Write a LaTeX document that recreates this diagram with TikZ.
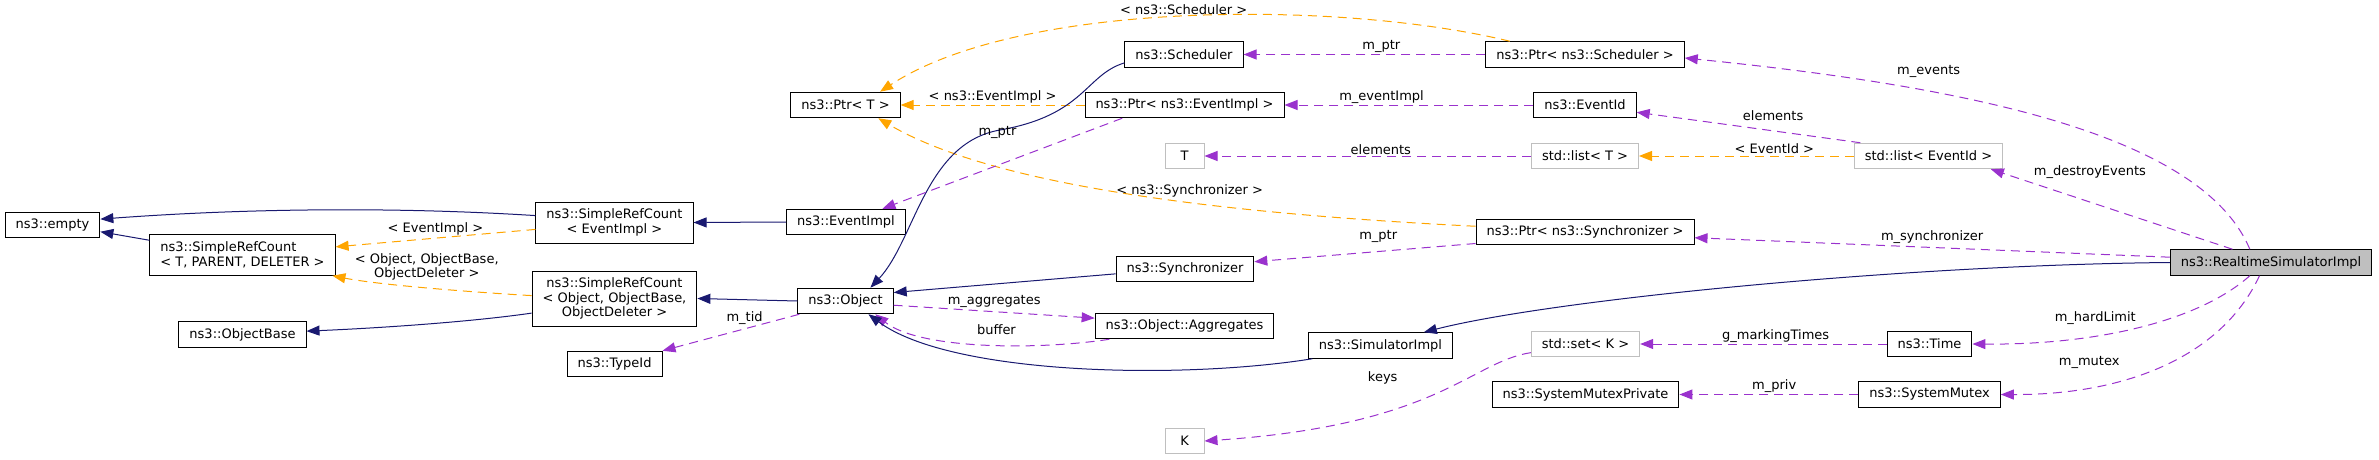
\documentclass[tikz,border=0pt]{standalone}
\usepackage{fontspec}
\setmainfont{DejaVu Sans}
\usetikzlibrary{arrows.meta}
\definecolor{edgeblue}{HTML}{191970}
\definecolor{edgepurple}{HTML}{9A32CD}
\definecolor{edgeorange}{HTML}{FFA500}
\definecolor{boxgray}{HTML}{BFBFBF}

\begin{document}
\begin{tikzpicture}[x=1pt, y=-1pt,
  block/.style={draw=black, line width=1pt, minimum width=39pt, minimum height=25.5pt, inner xsep=10.5pt, inner ysep=5.5pt, align=center, font=\fontsize{13}{14.5}\selectfont},
  undoc/.style={block, draw=boxgray},
  inherit/.style={-{Triangle[length=13pt,width=10pt]}, line width=1pt, edgeblue},
  member/.style={inherit, edgepurple, dash pattern=on 9pt off 6pt},
  templ/.style={inherit, edgeorange, dash pattern=on 9pt off 6pt},
  lab/.style={font=\fontsize{13}{14.5}\selectfont, inner sep=1pt, align=center, text=black}
]
\useasboundingbox (0,0) rectangle (2379,460);

\node[block] (empty) at (52.5,225) {ns3::empty};
\node[block, align=left, minimum height=40.5pt] (srcT) at (242.5,255) {ns3::SimpleRefCount\\< T, PARENT, DELETER >};
\node[block, minimum height=41pt] (srcEI) at (614.5,222.5) {ns3::SimpleRefCount\\< EventImpl >};
\node[block, minimum height=55pt] (srcObj) at (614.5,298.5) {ns3::SimpleRefCount\\< Object, ObjectBase,\\ObjectDeleter >};
\node[block] (objBase) at (242.5,334.5) {ns3::ObjectBase};
\node[block] (typeId) at (614.5,364) {ns3::TypeId};
\node[block] (ptrT) at (845.5,105) {ns3::Ptr< T >};
\node[block] (eventImpl) at (846,222) {ns3::EventImpl};
\node[block] (object) at (845.5,301) {ns3::Object};
\node[block] (scheduler) at (1184,54.5) {ns3::Scheduler};
\node[block] (ptrEI) at (1184.5,105) {ns3::Ptr< ns3::EventImpl >};
\node[undoc] (tT) at (1184.5,156) {T};
\node[block] (sync) at (1185,269) {ns3::Synchronizer};
\node[block] (aggr) at (1184.5,326) {ns3::Object::Aggregates};
\node[undoc] (kK) at (1184.5,441) {K};
\node[block] (simImpl) at (1380.5,345.5) {ns3::SimulatorImpl};
\node[block] (ptrSched) at (1585,54.5) {ns3::Ptr< ns3::Scheduler >};
\node[block] (eventId) at (1585,105) {ns3::EventId};
\node[undoc] (listT) at (1585,156) {std::list< T >};
\node[block] (ptrSync) at (1585,232) {ns3::Ptr< ns3::Synchronizer >};
\node[undoc] (setK) at (1585.5,344) {std::set< K >};
\node[block] (mutexPriv) at (1585.5,394.5) {ns3::SystemMutexPrivate};
\node[undoc] (listEId) at (1928.5,156) {std::list< EventId >};
\node[block] (time) at (1929.5,344) {ns3::Time};
\node[block] (mutex) at (1929.5,394.5) {ns3::SystemMutex};
\node[block, fill=boxgray] (rtSim) at (2271,262.5) {ns3::RealtimeSimulatorImpl};

\draw[inherit] (srcEI.175) .. controls (400,207) and (250,208) .. (empty.7);
\draw[inherit] (srcT.171) -- (empty.-8);
\draw[templ] (srcEI.185) -- node[lab, above=1pt] {< EventImpl >} (srcT.5);
\draw[templ] (srcObj.178) .. controls (470,292) and (380,285) .. node[lab, above=6pt] {< Object, ObjectBase,\\ObjectDeleter >} (srcT.-13);
\draw[inherit] (srcObj.190) .. controls (470,322) and (380,328) .. (objBase.3);
\draw[inherit] (object.west) -- (srcObj.east);
\draw[inherit] (eventImpl.west) -- (srcEI.east);
\draw[member] (object.196) -- node[lab, pos=0.4, above=3pt] {m\_tid} (typeId.north east);

\draw[templ] (ptrSched.170) .. controls (1340,0) and (1020,0) .. node[lab, above=0pt] {< ns3::Scheduler >} (ptrT.21);
\draw[templ] (ptrEI.west) -- node[lab, above=0pt] {< ns3::EventImpl >} (ptrT.east);
\draw[templ] (ptrSync.177) .. controls (1250,215) and (1000,190) .. node[lab, pos=0.42, above=4pt] {< ns3::Synchronizer >} (ptrT.-22);
\draw[inherit] (scheduler.188) .. controls (1085,75) and (1085,115) .. (1000,130) .. controls (925,143) and (915,240) .. (object.28);
\draw[member] (ptrEI.192) -- node[lab, pos=0.52, above=25pt] {m\_ptr} (eventImpl.20);
\draw[inherit] (sync.184) -- (object.10);
\draw[member] (object.-5) -- node[lab, above=3pt] {m\_aggregates} (aggr.175);
\draw[member] (aggr.190) .. controls (1040,350) and (920,350) .. node[lab, pos=0.45, above=9pt] {buffer} (object.-24);
\draw[inherit] (simImpl.191) .. controls (1180,380) and (950,375) .. (object.-30);
\draw[inherit] (rtSim.west) .. controls (1900,265) and (1550,300) .. (simImpl.17);

\draw[member] (rtSim.148) .. controls (2200,130) and (1950,85) .. node[lab, pos=0.68, above=12pt] {m\_events} (ptrSched.-2);
\draw[member] (listEId.169) -- node[lab, pos=0.39, above=9pt] {elements} (eventId.-8);
\draw[templ] (listEId.west) -- node[lab, pos=0.37, above=1pt] {< EventId >} (listT.east);
\draw[member] (listT.west) -- node[lab, pos=0.46, above=0pt] {elements} (tT.east);
\draw[member] (rtSim.161) -- node[lab, pos=0.59, above=22pt] {m\_destroyEvents} (listEId.-12);
\draw[member] (eventId.west) -- node[lab, pos=0.61, above=0pt] {m\_eventImpl} (ptrEI.east);
\draw[member] (ptrSched.west) -- node[lab, pos=0.43, above=0pt] {m\_ptr} (scheduler.east);
\draw[member] (ptrSync.186) -- node[lab, pos=0.44, above=7pt] {m\_ptr} (sync.6);
\draw[member] (rtSim.177) -- node[lab, above=2pt] {m\_synchronizer} (ptrSync.-3);
\draw[member] (time.west) -- node[lab, pos=0.45, above=0pt] {g\_markingTimes} (setK.east);
\draw[member] (setK.189) .. controls (1470,362) and (1440,425) .. node[lab, pos=0.66, above=27pt] {keys} (kK.east);
\draw[member] (rtSim.212) .. controls (2200,320) and (2100,345) .. node[lab, pos=0.65, above=10pt] {m\_hardLimit} (time.east);
\draw[member] (rtSim.229) .. controls (2220,360) and (2120,395) .. node[lab, pos=0.74, above=17pt] {m\_mutex} (mutex.east);
\draw[member] (mutex.west) -- node[lab, pos=0.47, above=0pt] {m\_priv} (mutexPriv.east);
\end{tikzpicture}
\end{document}
